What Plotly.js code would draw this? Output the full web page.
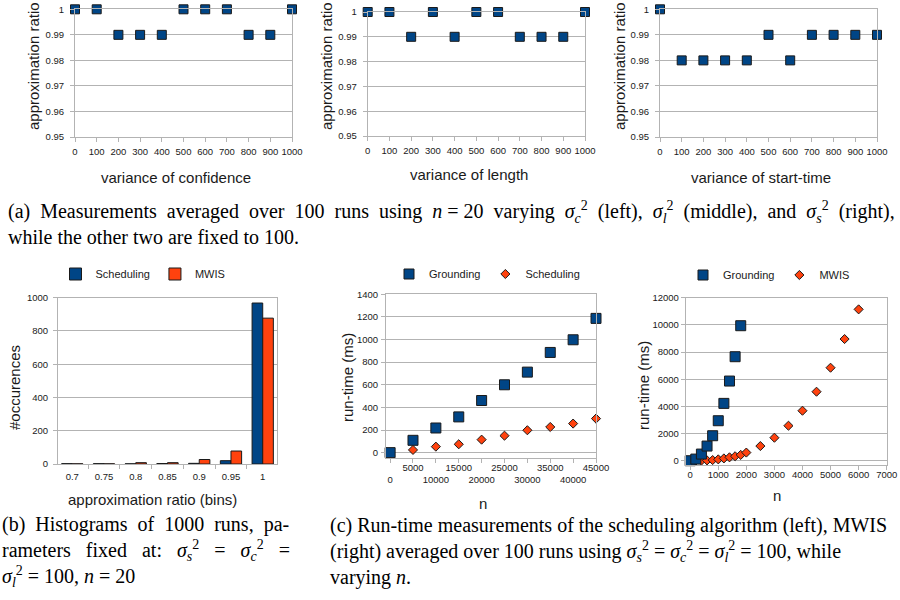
<!DOCTYPE html>
<html>
<head>
<meta charset="utf-8">
<script src="https://cdn.plot.ly/plotly-3.0.1.min.js"></script>
<style>html,body{margin:0;padding:0;background:#fff;}#chart{width:900px;height:600px;}</style>
</head>
<body>
<div id="chart"></div>
<script>
// ---------- data ----------
const varianceX = [0, 100, 200, 300, 400, 500, 600, 700, 800, 900, 1000];
const ratioConfidence = [1, 1, 0.99, 0.99, 0.99, 1, 1, 1, 0.99, 0.99, 1];
const ratioLength = [1, 1, 0.99, 1, 0.99, 1, 1, 0.99, 0.99, 0.99, 1];
const ratioStart = [1, 0.98, 0.98, 0.98, 0.98, 0.99, 0.98, 0.99, 0.99, 0.99, 0.99];

const binLabels = ['0.7', '0.75', '0.8', '0.85', '0.9', '0.95', '1'];
const histScheduling = [2, 2, 1, 3, 4, 20, 968];
const histMWIS = [1, 1, 8, 8, 27, 78, 877];

const nSched = [0, 5000, 10000, 15000, 20000, 25000, 30000, 35000, 40000, 45000];
const groundingSched = [0, 109, 218, 316, 461, 600, 712, 886, 998, 1187];
const schedulingMs = [0, 24, 53, 74, 115, 150, 198, 227, 257, 301];
const nSchedTicks = [0, 5000, 10000, 15000, 20000, 25000, 30000, 35000, 40000, 45000];
const nSchedTickText = ['\u00a0<br>0', '5000', '\u00a0<br>10000', '15000', '\u00a0<br>20000', '25000', '\u00a0<br>30000', '35000', '\u00a0<br>40000', '45000'];

const nGround = [0, 200, 400, 600, 800, 1000, 1200, 1400, 1600, 1800];
const groundingMWIS = [0, 120, 490, 1080, 1840, 2945, 4220, 5865, 7656, 9938];
const nMWIS = [0, 200, 400, 600, 800, 1000, 1200, 1400, 1600, 1800, 2000, 2500, 3000, 3500, 4000, 4500, 5000, 5500, 6000];
const mwisMs = [0, 5, 10, 25, 50, 100, 170, 250, 330, 430, 600, 1080, 1693, 2577, 3681, 5080, 6847, 8957, 11141];

// ---------- styling ----------
const W = 900, H = 600;
const fx = p => p / W;
const fy = p => 1 - p / H;
const BLUE = '#004586', ORANGE = '#ff420e', EDGE = '#1a1a1a', GRID = '#b3b3b3', TXT = '#1a1a1a';
const SANS = 'Liberation Sans, Arial, sans-serif';
const SERIF = 'Liberation Serif, Times New Roman, serif';

function xAx(l, r, extra) {
  return Object.assign({
    domain: [fx(l), fx(r)], showgrid: false, zeroline: false, showline: true, mirror: true,
    linecolor: GRID, linewidth: 1, ticks: 'outside', ticklen: 4, tickcolor: GRID, tickangle: 0,
    tickfont: {size: 9.5, color: TXT, family: SANS}, fixedrange: true
  }, extra);
}
function yAx(t, b, extra) {
  return Object.assign({
    domain: [fy(b), fy(t)], showgrid: true, gridcolor: GRID, gridwidth: 1, zeroline: false,
    showline: true, mirror: true, linecolor: GRID, linewidth: 1, ticks: 'outside', ticklen: 4,
    tickcolor: GRID, tickfont: {size: 9.5, color: TXT, family: SANS}, fixedrange: true
  }, extra);
}
const sqMarker = s => ({symbol: 'square', size: s, color: BLUE, line: {color: EDGE, width: 1}});
const diMarker = s => ({symbol: 'diamond', size: s, color: ORANGE, line: {color: EDGE, width: 1}});

const traces = [
  {x: varianceX, y: ratioConfidence, type: 'scatter', mode: 'markers', marker: sqMarker(9), xaxis: 'x', yaxis: 'y', showlegend: false, cliponaxis: false},
  {x: varianceX, y: ratioLength, type: 'scatter', mode: 'markers', marker: sqMarker(9), xaxis: 'x2', yaxis: 'y2', showlegend: false, cliponaxis: false},
  {x: varianceX, y: ratioStart, type: 'scatter', mode: 'markers', marker: sqMarker(9), xaxis: 'x3', yaxis: 'y3', showlegend: false, cliponaxis: false},
  {x: binLabels, y: histScheduling, type: 'bar', name: 'Scheduling', marker: {color: BLUE, line: {color: EDGE, width: 1}}, xaxis: 'x4', yaxis: 'y4', legend: 'legend'},
  {x: binLabels, y: histMWIS, type: 'bar', name: 'MWIS', marker: {color: ORANGE, line: {color: EDGE, width: 1}}, xaxis: 'x4', yaxis: 'y4', legend: 'legend'},
  {x: nSched, y: groundingSched, type: 'scatter', mode: 'markers', name: 'Grounding', marker: sqMarker(10), xaxis: 'x5', yaxis: 'y5', legend: 'legend2', cliponaxis: false},
  {x: nSched, y: schedulingMs, type: 'scatter', mode: 'markers', name: 'Scheduling', marker: diMarker(7), xaxis: 'x5', yaxis: 'y5', legend: 'legend2', cliponaxis: false},
  {x: nGround, y: groundingMWIS, type: 'scatter', mode: 'markers', name: 'Grounding', marker: sqMarker(10), xaxis: 'x6', yaxis: 'y6', legend: 'legend3', cliponaxis: false},
  {x: nMWIS, y: mwisMs, type: 'scatter', mode: 'markers', name: 'MWIS', marker: diMarker(7), xaxis: 'x6', yaxis: 'y6', legend: 'legend3', cliponaxis: false}
];

// draw the orange series below the blue ones in the run-time charts
const ordered = [traces[0], traces[1], traces[2], traces[3], traces[4], traces[6], traces[5], traces[8], traces[7]];

const legendBase = {orientation: 'h', xanchor: 'center', yanchor: 'middle', font: {size: 11, color: TXT, family: SANS}, bgcolor: 'rgba(0,0,0,0)', itemwidth: 30, traceorder: 'reversed'};

const titleFont = {size: 15, color: TXT, family: SANS};
const capFont = {size: 20, color: '#000', family: SERIF};
function ann(text, x, y, opts) {
  return Object.assign({text: text, x: fx(x), y: fy(y), xref: 'paper', yref: 'paper', showarrow: false, xanchor: 'center', yanchor: 'middle', font: titleFont}, opts || {});
}
const sigma = (s) => '<i>σ</i><sub><i>' + s + '</i></sub><sup>2</sup>';
const S2 = '\u00a0 '; // widened (justified) word space
const S3 = '\u00a0\u00a0 ';

const captionA = [
  ['(a)', 'Measurements', 'averaged', 'over', '100', 'runs', 'using', '<i>n</i> = 20', 'varying', sigma('c'), '(left),', sigma('l'), '(middle),', 'and', sigma('s'), '(right),'].join(S2),
  'while the other two are fixed to 100.'
].join('<br>');
const captionB = [
  ['(b)', 'Histograms', 'of', '1000', 'runs,', 'pa-'].join(S2),
  ['rameters', 'fixed', 'at:', sigma('s'), '=', sigma('c'), '='].join(S3),
  sigma('l') + ' = 100, <i>n</i> = 20'
].join('<br>');
const captionC = [
  '(c) Run-time measurements of the scheduling algorithm (left), MWIS',
  '(right) averaged over 100 runs using ' + sigma('s') + ' = ' + sigma('c') + ' = ' + sigma('l') + ' = 100, while',
  'varying <i>n</i>.'
].join('<br>');

const annotations = [
  ann('approximation ratio', 34, 66, {textangle: -90}),
  ann('variance of confidence', 176, 178),
  ann('approximation ratio', 327, 66, {textangle: -90}),
  ann('variance of length', 469, 174),
  ann('approximation ratio', 620, 66, {textangle: -90}),
  ann('variance of start-time', 761, 178),
  ann('#occurences', 15, 388, {textangle: -90}),
  ann('approximation ratio (bins)', 152, 499),
  ann('run-time (ms)', 347, 378, {textangle: -90}),
  ann('n', 483, 503),
  ann('run-time (ms)', 643, 386, {textangle: -90}),
  ann('n', 777, 495),
  // captions
  ann(captionA, 6, 223, {xanchor: 'left', align: 'left', font: capFont}),
  ann(captionB, 0, 551, {xanchor: 'left', align: 'left', font: capFont}),
  ann(captionC, 328, 551, {xanchor: 'left', align: 'left', font: capFont})
];

const layout = {
  width: W, height: H, margin: {l: 0, r: 0, t: 0, b: 0}, paper_bgcolor: '#fff', plot_bgcolor: '#fff',
  font: {family: SANS, color: TXT},
  barmode: 'group', bargap: 0.33, bargroupgap: 0,
  xaxis: xAx(75, 292, {range: [0, 1000], dtick: 100, tick0: 0, anchor: 'y', ticklabelstandoff: 2}),
  yaxis: yAx(9.3, 137, {range: [0.95, 1], dtick: 0.01, tick0: 0.95, anchor: 'x', ticklabelstandoff: 4}),
  xaxis2: xAx(367.7, 585, {range: [0, 1000], dtick: 100, tick0: 0, anchor: 'y2', ticklabelstandoff: 2}),
  yaxis2: yAx(12, 136, {range: [0.95, 1], dtick: 0.01, tick0: 0.95, anchor: 'x2', ticklabelstandoff: 4}),
  xaxis3: xAx(660, 877, {range: [0, 1000], dtick: 100, tick0: 0, anchor: 'y3', ticklabelstandoff: 2}),
  yaxis3: yAx(9.3, 137, {range: [0.95, 1], dtick: 0.01, tick0: 0.95, anchor: 'x3', ticklabelstandoff: 4}),
  xaxis4: xAx(58, 277, {type: 'category', range: [-0.45, 6.45], tickson: 'boundaries', anchor: 'y4', ticklabelstandoff: 4}),
  yaxis4: yAx(297.7, 464, {range: [0, 1000], dtick: 200, anchor: 'x4', ticklabelstandoff: 3}),
  xaxis5: xAx(386, 596, {range: [-900, 45000], tickvals: nSchedTicks, ticktext: nSchedTickText, anchor: 'y5', ticklabelstandoff: -4}),
  yaxis5: yAx(294.3, 458.3, {range: [-50, 1400], dtick: 200, tick0: 0, anchor: 'x5', ticklabelstandoff: 1}),
  xaxis6: xAx(685.7, 886.7, {range: [-160, 7000], dtick: 1000, tick0: 0, tickformat: 'd', anchor: 'y6', ticklabelstandoff: -3}),
  yaxis6: yAx(297.7, 464.8, {range: [-300, 12000], dtick: 2000, tick0: 0, tickformat: 'd', anchor: 'x6', ticklabelstandoff: 0}),
  legend: Object.assign({}, legendBase, {x: fx(143), y: fy(274), traceorder: 'normal'}),
  legend2: Object.assign({}, legendBase, {x: fx(487), y: fy(274)}),
  legend3: Object.assign({}, legendBase, {x: fx(769), y: fy(275)}),
  annotations: annotations
};

Plotly.newPlot('chart', ordered, layout, {displayModeBar: false, staticPlot: true});
</script>
</body>
</html>
